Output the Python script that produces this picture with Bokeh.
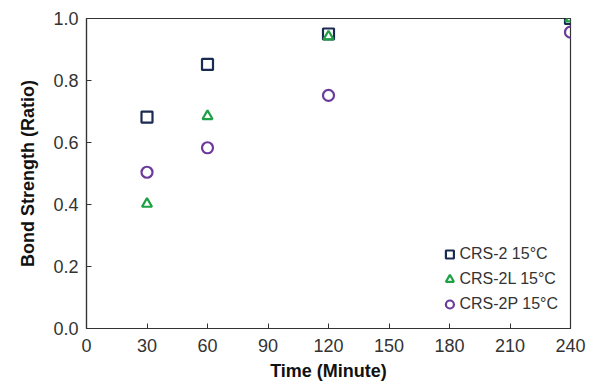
from bokeh.plotting import figure
from bokeh.models import Legend, LegendItem, FixedTicker, Range1d, CustomJSTickFormatter
from bokeh.embed import file_html
from bokeh.resources import INLINE

time_min = [30, 60, 120, 240]
crs2 = [0.682, 0.852, 0.950, 1.000]
crs2l = [0.402, 0.685, 0.942, 1.000]
crs2p = [0.504, 0.583, 0.752, 0.956]
labels = ["CRS-2 15°C", "CRS-2L 15°C", "CRS-2P 15°C"]
x_ticks = [0, 30, 60, 90, 120, 150, 180, 210, 240]
y_ticks = [0.0, 0.2, 0.4, 0.6, 0.8, 1.0]

p = figure(width=590, height=390, output_backend="svg", toolbar_location=None,
           x_range=Range1d(0, 240), y_range=Range1d(0, 1.0),
           frame_width=484, frame_height=310,
           min_border_left=86, min_border_top=18, min_border_right=20, min_border_bottom=62)
p.background_fill_color = "white"
p.border_fill_color = "white"
p.outline_line_color = "#333333"
p.outline_line_width = 1.2
p.xgrid.grid_line_color = None
p.ygrid.grid_line_color = None

font = "Liberation Sans"
for ax in (p.xaxis[0], p.yaxis[0]):
    ax.major_tick_in = 5
    ax.major_tick_out = 0
    ax.minor_tick_in = 0
    ax.minor_tick_out = 0
    ax.axis_line_color = "#333333"
    ax.axis_line_width = 1.2
    ax.major_tick_line_color = "#333333"
    ax.major_label_text_font = font
    ax.major_label_text_font_size = "18px"
    ax.major_label_text_color = "#333333"
    ax.axis_label_text_font = font
    ax.axis_label_text_font_size = "18px"
    ax.axis_label_text_font_style = "bold"
    ax.axis_label_text_color = "#111111"

p.xaxis.ticker = FixedTicker(ticks=x_ticks)
p.yaxis.ticker = FixedTicker(ticks=y_ticks)
p.yaxis.formatter = CustomJSTickFormatter(code="return tick.toFixed(1);")
p.xaxis.axis_label = "Time (Minute)"
p.yaxis.axis_label = "Bond Strength (Ratio)"
p.xaxis.major_label_standoff = 10
p.yaxis.major_label_standoff = 8
p.xaxis.axis_label_standoff = 6
p.yaxis.axis_label_standoff = 12

c1, c2, c3 = "#1b2a50", "#1ea045", "#6a3a9c"
r1 = p.scatter(time_min, crs2, marker="square", size=11, fill_color=None, line_color=c1, line_width=2.2)
r2 = p.scatter(time_min, crs2l, marker="triangle", size=10, fill_color=None, line_color=c2, line_width=2.2)
r3 = p.scatter(time_min, crs2p, marker="circle", size=11, fill_color=None, line_color=c3, line_width=2.2)

legend = Legend(items=[LegendItem(label=labels[0], renderers=[r1]),
                       LegendItem(label=labels[1], renderers=[r2]),
                       LegendItem(label=labels[2], renderers=[r3])],
                location="bottom_right")
legend.background_fill_alpha = 0
legend.border_line_color = None
legend.label_text_font = font
legend.label_text_font_size = "16px"
legend.label_text_color = "#333333"
legend.glyph_width = 20
legend.glyph_height = 24
legend.label_standoff = 0
legend.label_height = 20
legend.spacing = 1
legend.padding = 4
legend.margin = 12
p.add_layout(legend)

open("out.html", "w").write(file_html(p, INLINE))
